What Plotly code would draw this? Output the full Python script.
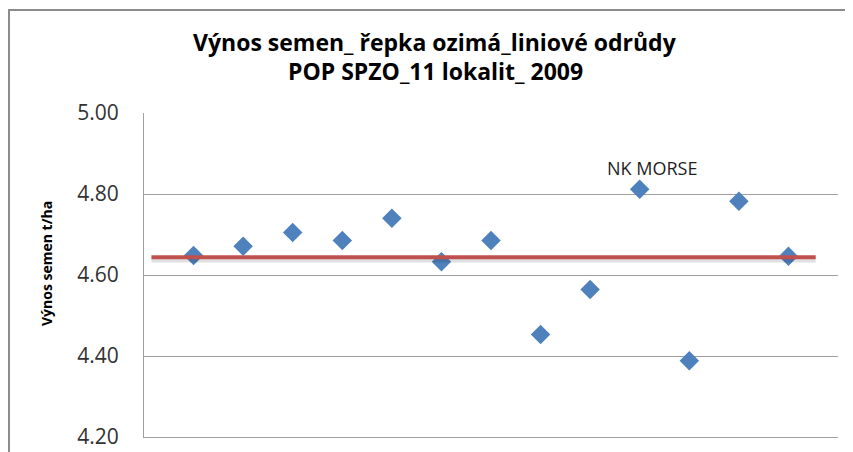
import plotly.graph_objects as go

# varieties (positions 1..13) and seed yield t/ha
odrudy = list(range(1, 14))
vynos = [4.648, 4.671, 4.705, 4.685, 4.740, 4.633, 4.685,
         4.453, 4.564, 4.812, 4.388, 4.782, 4.646]
prumer = 4.644
prumer_x = [0.15, 13.55]
popisek_idx = 9
popisek = "NK MORSE"
y_ticks = [4.20, 4.40, 4.60, 4.80, 5.00]
titulek = ["Výnos semen_ řepka ozimá_liniové odrůdy", "POP SPZO_11 lokalit_ 2009"]

COLORS = {
    "blue": "#4F81BD",
    "red": "#C0504D",
    "grid": "rgb(160,160,160)",
    "border": "rgb(140,140,140)",
    "text": "rgb(40,40,40)",
}
FONT = "Open Sans, Lato, sans-serif"

# the page body has an 8px margin, so the figure is 8px smaller than the window
OFF = 8
PLOT_L, PLOT_R, PLOT_T, PLOT_B = 144, 838, 113, 437
W, H = 853 - OFF, 452 - OFF
PW, PH = PLOT_R - PLOT_L, PLOT_B - PLOT_T


def px(x):
    return (x - PLOT_L) / PW


def py(y):
    return (PLOT_B - y) / PH


fig = go.Figure()
fig.add_trace(
    go.Scatter(
        x=odrudy,
        y=vynos,
        mode="markers",
        marker={"symbol": "diamond", "size": 15, "color": COLORS["blue"]},
        showlegend=False,
    )
)
# soft shadow under the average line
fig.add_trace(
    go.Scatter(
        x=prumer_x,
        y=[prumer - 0.006] * 2,
        mode="lines",
        line={"color": "rgba(0,0,0,0.12)", "width": 6},
        showlegend=False,
        hoverinfo="skip",
    )
)
fig.add_trace(
    go.Scatter(
        x=prumer_x,
        y=[prumer] * 2,
        mode="lines",
        line={"color": COLORS["red"], "width": 4},
        showlegend=False,
    )
)

fig.update_layout(
    width=W,
    height=H,
    paper_bgcolor="white",
    plot_bgcolor="white",
    margin={
        "l": PLOT_L - OFF,
        "r": W + OFF - PLOT_R,
        "t": PLOT_T - OFF,
        "b": H + OFF - PLOT_B,
        "autoexpand": False,
    },
    font={"family": FONT, "color": COLORS["text"]},
    xaxis={
        "range": [0, 14],
        "showgrid": False,
        "zeroline": False,
        "showticklabels": False,
        "showline": True,
        "linecolor": COLORS["grid"],
        "linewidth": 1,
    },
    yaxis={
        "range": [4.2, 5.0],
        "tickvals": y_ticks,
        "tickformat": ".2f",
        "showgrid": True,
        "gridcolor": COLORS["grid"],
        "gridwidth": 1,
        "zeroline": False,
        "showline": True,
        "linecolor": COLORS["grid"],
        "linewidth": 1,
        "ticklabelstandoff": 20,
        "tickfont": {"size": 21, "color": "rgb(50,50,50)"},
    },
    annotations=[
        {
            "text": f"<b>{titulek[0]}</b>",
            "xref": "paper",
            "yref": "paper",
            "x": px(435),
            "y": py(42),
            "xanchor": "center",
            "yanchor": "middle",
            "showarrow": False,
            "font": {"size": 23, "color": "black"},
        },
        {
            "text": f"<b>{titulek[1]}</b>",
            "xref": "paper",
            "yref": "paper",
            "x": px(435),
            "y": py(71),
            "xanchor": "center",
            "yanchor": "middle",
            "showarrow": False,
            "font": {"size": 23, "color": "black"},
        },
        {
            "text": "<b>Výnos semen t/ha</b>",
            "xref": "paper",
            "yref": "paper",
            "x": px(46),
            "y": py(264),
            "textangle": -90,
            "xanchor": "center",
            "yanchor": "middle",
            "showarrow": False,
            "font": {"size": 14, "color": "black"},
        },
        {
            "text": popisek,
            "x": odrudy[popisek_idx],
            "y": vynos[popisek_idx],
            "xshift": 12,
            "yshift": 21,
            "showarrow": False,
            "font": {"size": 18, "color": "rgb(30,30,30)"},
        },
    ],
    shapes=[
        {
            "type": "rect",
            "xref": "paper",
            "yref": "paper",
            "x0": px(9),
            "x1": 1.2,
            "y0": -0.3,
            "y1": py(10),
            "line": {"color": COLORS["border"], "width": 2},
            "layer": "below",
        }
    ],
)

fig.write_html("out.html")
